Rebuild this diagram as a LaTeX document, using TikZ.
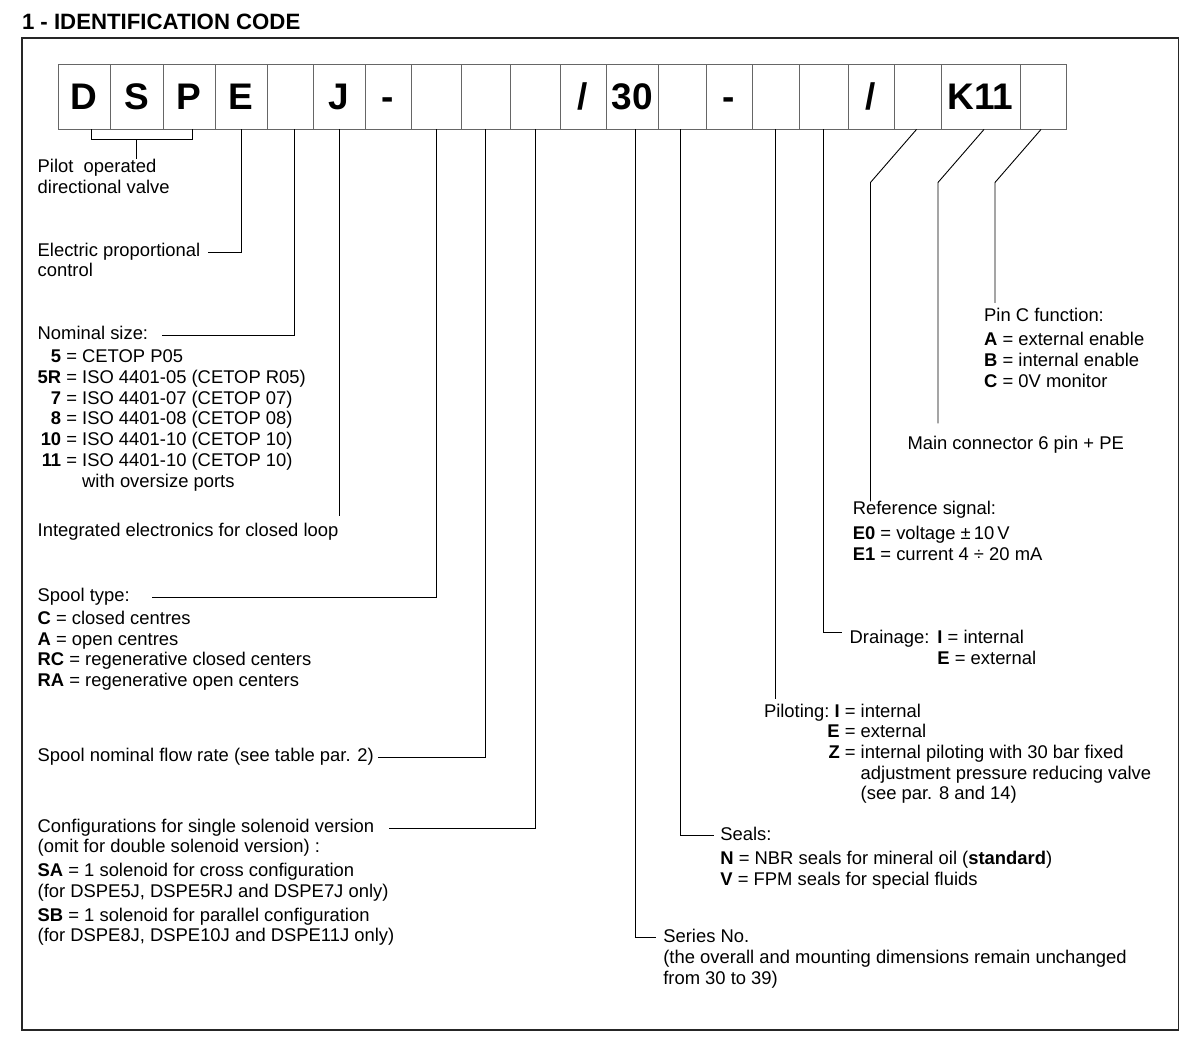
\documentclass[tikz,border=0pt]{standalone}
\usepackage{fontspec}
\setmainfont{Liberation Sans}

\newcommand{\lblfont}{\fontsize{18.4}{20.7}\selectfont}
\newcommand{\boxfont}{\fontsize{37}{40}\selectfont\bfseries}
\newcommand{\titlefont}{\fontsize{22.2}{24}\selectfont\bfseries}

\begin{document}
\begin{tikzpicture}[x=1pt, y=-1pt,
    codebox/.style={draw=black!60, line width=0.9pt, minimum height=65pt, inner sep=0pt,
                    text height=27pt, text depth=0pt, font=\boxfont},
    lbl/.style={anchor=north west, inner sep=0pt, align=left, font=\lblfont,
                execute at begin node={\rule[-6.2pt]{0pt}{20.7pt}}},
    lead/.style={line width=0.9pt}]
    \useasboundingbox (0,0) rectangle (1200,1054);

    % Titre et cadre
    \node[anchor=base west, inner sep=0pt, font=\titlefont] (title) at (21.8,30) {1 - IDENTIFICATION CODE};
    \draw[line width=1.6pt, black!85] (21.7,38.3) rectangle (1178.5,1030);

    % Cases du code
    \def\yc{96.5}
    \node[codebox, minimum width=52pt] (c1) at (84,\yc) {D};
    \node[codebox, minimum width=53pt] (c2) at (136.5,\yc) {S};
    \node[codebox, minimum width=52pt] (c3) at (189,\yc) {P};
    \node[codebox, minimum width=52pt] (c4) at (241,\yc) {E};
    \node[codebox, minimum width=46pt] (c5) at (290,\yc) {};
    \node[codebox, minimum width=52pt] (c6) at (339,\yc) {J};
    \node[codebox, minimum width=46pt] (c7) at (388,\yc) {-};
    \node[codebox, minimum width=50pt] (c8) at (436,\yc) {};
    \node[codebox, minimum width=49pt] (c9) at (485.5,\yc) {};
    \node[codebox, minimum width=50pt] (c10) at (535,\yc) {};
    \node[codebox, minimum width=46pt] (c11) at (583,\yc) {/};
    \node[codebox, minimum width=52pt] (c12) at (632,\yc) {30};
    \node[codebox, minimum width=48pt] (c13) at (682,\yc) {};
    \node[codebox, minimum width=46pt] (c14) at (729,\yc) {-};
    \node[codebox, minimum width=47pt] (c15) at (775.5,\yc) {};
    \node[codebox, minimum width=49pt] (c16) at (823.5,\yc) {};
    \node[codebox, minimum width=46pt] (c17) at (871,\yc) {/};
    \node[codebox, minimum width=47pt] (c18) at (917.5,\yc) {};
    \node[codebox, minimum width=79pt] (c19) at (980.5,\yc) {K11};
    \node[codebox, minimum width=46pt] (c20) at (1043,\yc) {};

    % Textes colonne gauche
    \node[lbl] (pilot) at (37.5,158.8) {Pilot\ \ operated\\directional valve};
    \node[lbl] (elec) at (37.5,241.4) {Electric proportional};
    \node[lbl] (ctrl) at (37.5,262.1) {control};
    \node[lbl] (nom) at (37.5,324.8) {Nominal size:};
    \node[lbl] (nomlist) at (37.5,348.1) {\begin{tabular}[t]{@{}r@{ }c@{ }l@{}}
        \textbf{5} & = & CETOP P05\\
        \textbf{5R} & = & ISO 4401-05 (CETOP R05)\\
        \textbf{7} & = & ISO 4401-07 (CETOP 07)\\
        \textbf{8} & = & ISO 4401-08 (CETOP 08)\\
        \textbf{10} & = & ISO 4401-10 (CETOP 10)\\
        \textbf{11} & = & ISO 4401-10 (CETOP 10)\\
         & & with oversize ports
        \end{tabular}};
    \node[lbl] (integ) at (37.5,521.4) {Integrated electronics for closed loop};
    \node[lbl] (spool) at (37.5,586.4) {Spool type:};
    \node[lbl] (spoollist) at (37.5,610.8) {\textbf{C} = closed centres\\
        \textbf{A} = open centres\\
        \textbf{RC} = regenerative closed centers\\
        \textbf{RA} = regenerative open centers};
    \node[lbl] (flow) at (37.5,746.4) {Spool nominal flow rate (see table par. 2)};
    \node[lbl] (config) at (37.5,817.8) {Configurations for single solenoid version};
    \node[lbl] (configlist) at (37.5,838.8) {(omit for double solenoid version) :\\[3.3pt]
        \textbf{SA} = 1 solenoid for cross configuration\\
        (for DSPE5J, DSPE5RJ and DSPE7J only)\\[3.3pt]
        \textbf{SB} = 1 solenoid for parallel configuration\\
        (for DSPE8J, DSPE10J and DSPE11J only)};

    % Textes colonne droite
    \node[lbl] (pinc) at (984,307.8) {Pin C function:\\[3.9pt]
        \textbf{A} = external enable\\
        \textbf{B} = internal enable\\
        \textbf{C} = 0V monitor};
    \node[lbl] (mainc) at (907.3,434.4) {Main connector 6 pin + PE};
    \node[lbl] (refsig) at (852.6,501.4) {Reference signal:\\[4.3pt]
        \textbf{E0} = voltage ±\,10\,V\\
        \textbf{E1} = current 4 ÷ 20 mA};
    \node[lbl] (drain) at (849.5,628.8) {\begin{tabular}[t]{@{}l@{\hspace{8pt}}l@{}}
        Drainage: & \textbf{I} = internal\\
         & \textbf{E} = external
        \end{tabular}};
    \node[lbl] (pilotg) at (763.8,702.4) {\begin{tabular}[t]{@{}l@{\hspace{-2pt}}r@{ }c@{ }l@{}}
        Piloting: & \textbf{I} & = & internal\\
         & \textbf{E} & = & external\\
         & \textbf{Z} & = & internal piloting with 30 bar fixed\\
         & & & adjustment pressure reducing valve\\
         & & & (see par. 8 and 14)
        \end{tabular}};
    \node[lbl] (seals) at (720.2,827.4) {Seals:\\[3.3pt]
        \textbf{N} = NBR seals for mineral oil (\textbf{standard})\\
        \textbf{V} = FPM seals for special fluids};
    \node[lbl] (series) at (663.1,929.4) {Series No.\\
        (the overall and mounting dimensions remain unchanged\\
        from 30 to 39)};

    % Renvois gauche
    \draw[lead] ([xshift=7pt]c1.south) -- ++(0,10) -| ([xshift=3pt]c3.south);
    \draw[lead] (c2.south) ++(0,10) -- (c2.south |- pilot.north);
    \draw[lead] (c4.south) |- ([xshift=7pt]elec.east);
    \draw[lead] ([xshift=4pt]c5.south) |- ([xshift=14pt]nom.east);
    \draw[lead, shorten >=5pt] (c6.south) -- (c6.south |- integ.north);
    \draw[lead] (c8.south) |- ([xshift=22pt]spool.east);
    \draw[lead] (c9.south) |- ([xshift=4pt]flow.east);
    \draw[lead] (c10.south) |- ([xshift=15pt]config.east);

    % Renvois droite
    \draw[lead] ([xshift=3pt]c12.south) |- ([xshift=-7pt,yshift=-8pt]series.north west);
    \draw[lead] ([xshift=-2pt]c13.south) |- ([xshift=-6pt,yshift=-8pt]seals.north west);
    \draw[lead, shorten >=3pt] (c15.south) -- (c15.south |- pilotg.north);
    \draw[lead] (c16.south) |- ([xshift=-8pt,yshift=-4pt]drain.north west);
    \draw[lead] ([xshift=-1pt]c18.south) -- ++(-46,53) coordinate (d18) -- (d18 |- refsig.north);
    \draw[lead, shorten >=11pt] ([xshift=3.5pt]c19.south) -- ++(-46,53) coordinate (d19) -- (d19 |- mainc.north);
    \draw[lead, shorten >=5pt] ([xshift=-2pt]c20.south) -- ++(-46,53) coordinate (d20) -- (d20 |- pinc.north);
\end{tikzpicture}
\end{document}
